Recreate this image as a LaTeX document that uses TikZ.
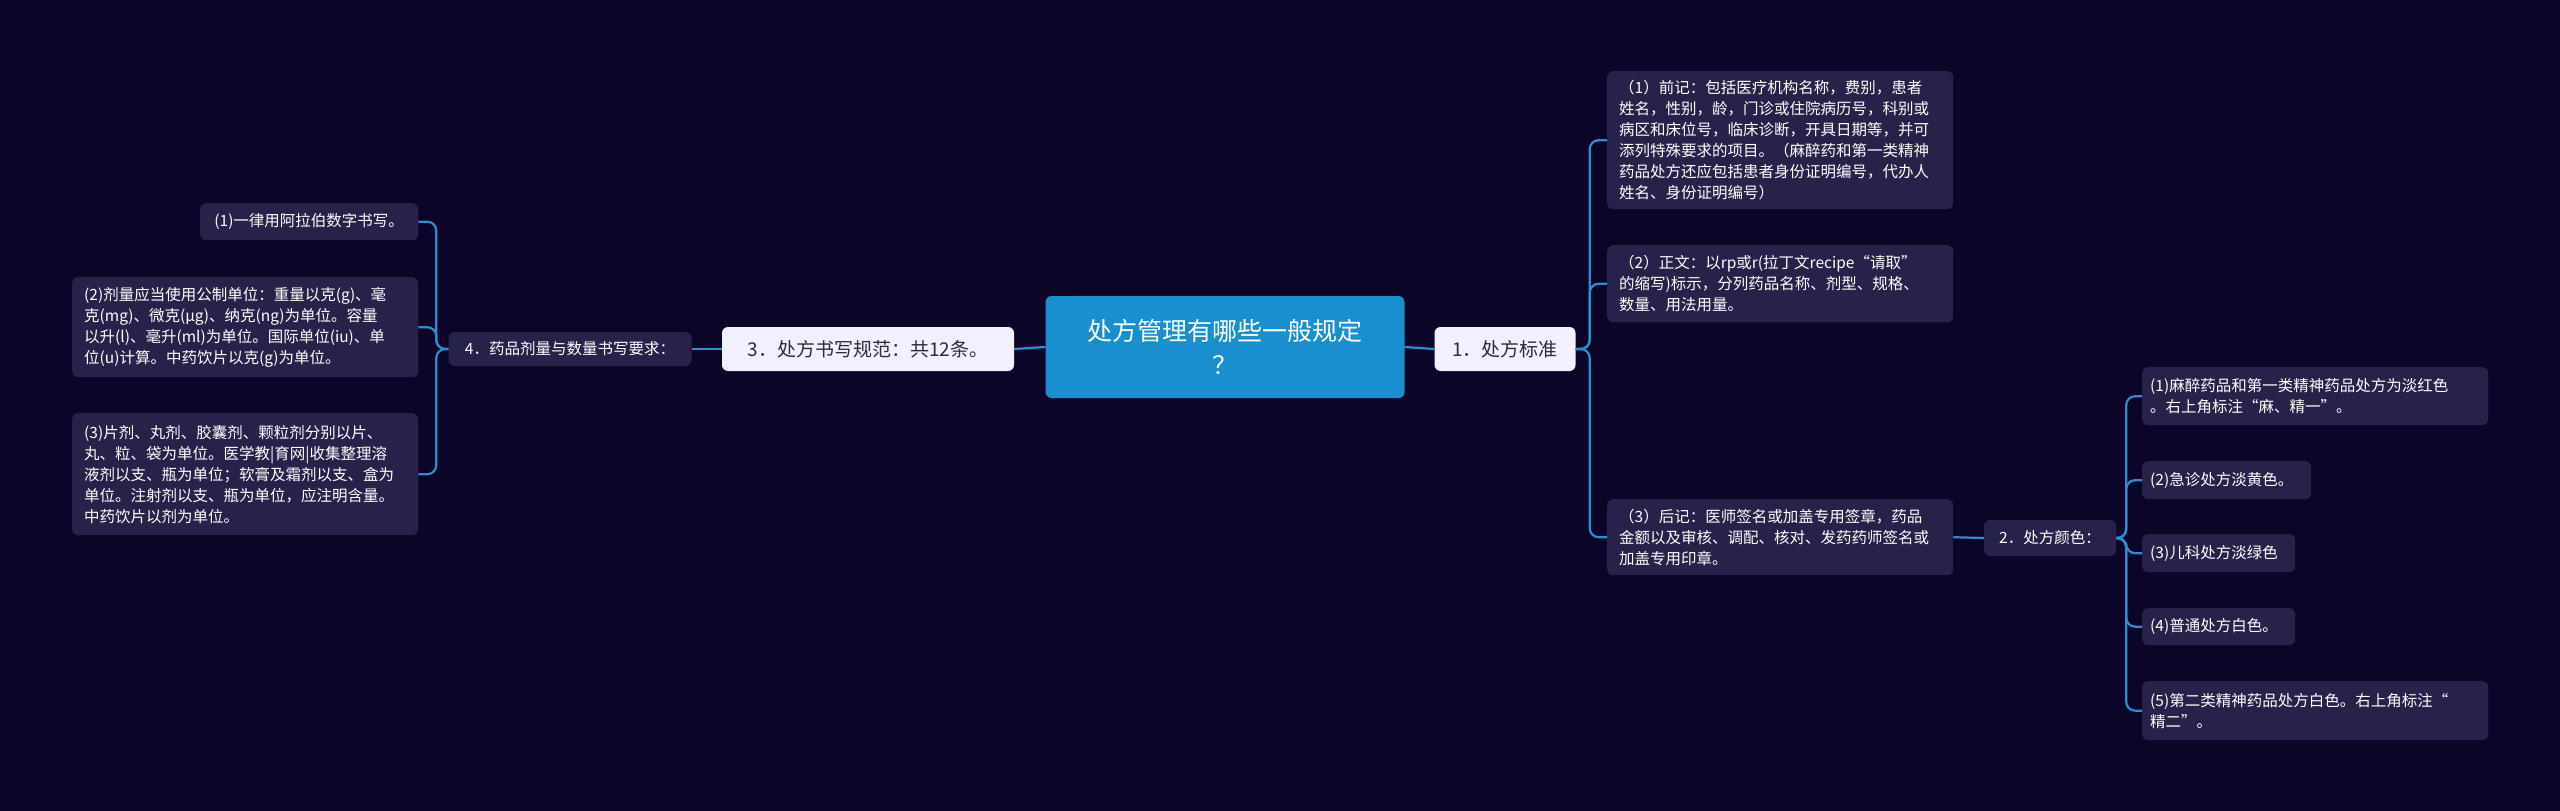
\documentclass[tikz,border=0pt]{standalone}
\usepackage{fontspec}
\setmainfont{Noto Sans CJK SC}
\begin{document}
\begin{tikzpicture}[x=1pt,y=-1pt,
  leaf/.style={fill=leafc,rounded corners=6pt,anchor=north west,text=white,font=\fontsize{15.5}{21}\selectfont,align=left,inner sep=0pt},
  sub/.style={fill=white!94!blue,rounded corners=6pt,text=darkt,font=\fontsize{19}{24}\selectfont,inner sep=0pt},
  conn/.style={draw=linec,line width=2.2pt,rounded corners=9pt}]
\definecolor{bg}{HTML}{0B0627}
\definecolor{leafc}{HTML}{272249}
\definecolor{linec}{HTML}{2A8FD0}
\definecolor{rootc}{HTML}{1A8FD0}
\definecolor{darkt}{HTML}{2A2A40}
\fill[bg] (0,0) rectangle (2560,811);
\useasboundingbox (0,0) rectangle (2560,811);
% root
\node[fill=rootc,rounded corners=6pt,minimum width=359pt,minimum height=102pt,text=white,align=center,font=\fontsize{25}{34}\selectfont,inner sep=0pt] (root) at (1225,347) {处方管理有哪些一般规定\\？};
\node[sub,minimum width=141pt,minimum height=44pt] (n1) at (1505,349) {1．处方标准};
\node[sub,minimum width=292pt,minimum height=44pt] (n3) at (868,349) {3．处方书写规范：共12条。};
\node[fill=leafc,rounded corners=6pt,text=white,font=\fontsize{15.5}{21}\selectfont,inner sep=0pt,minimum width=243pt,minimum height=34pt] (n4) at (570,349) {4．药品剂量与数量书写要求：};
\node[fill=leafc,rounded corners=6pt,text=white,font=\fontsize{15.5}{21}\selectfont,inner sep=0pt,minimum width=132pt,minimum height=36pt] (n2) at (2050,538) {2．处方颜色：};
% left leaves
\node[leaf,minimum width=218pt,minimum height=37pt,align=center] (l1) at (200,203) {(1)一律用阿拉伯数字书写。};
\node[leaf,text width=322pt,minimum height=100pt,inner xsep=12pt] (l2) at (72,277) {(2)剂量应当使用公制单位：重量以克(g)、毫\\克(mg)、微克(μg)、纳克(ng)为单位。容量\\以升(l)、毫升(ml)为单位。国际单位(iu)、单\\位(u)计算。中药饮片以克(g)为单位。};
\node[leaf,text width=322pt,minimum height=122pt,inner xsep=12pt] (l3) at (72,413) {(3)片剂、丸剂、胶囊剂、颗粒剂分别以片、\\丸、粒、袋为单位。医学教|育网|收集整理溶\\液剂以支、瓶为单位；软膏及霜剂以支、盒为\\单位。注射剂以支、瓶为单位，应注明含量。\\中药饮片以剂为单位。};
% right leaves
\node[leaf,text width=322pt,minimum height=138pt,inner xsep=12pt] (r1) at (1607,71) {（1）前记：包括医疗机构名称，费别，患者\\姓名，性别，龄，门诊或住院病历号，科别或\\病区和床位号，临床诊断，开具日期等，并可\\添列特殊要求的项目。（麻醉药和第一类精神\\药品处方还应包括患者身份证明编号，代办人\\姓名、身份证明编号）};
\node[leaf,text width=322pt,minimum height=77pt,inner xsep=12pt] (r2) at (1607,245) {（2）正文：以rp或r(拉丁文recipe“请取”\\的缩写)标示，分列药品名称、剂型、规格、\\数量、用法用量。};
\node[leaf,text width=322pt,minimum height=76pt,inner xsep=12pt] (r3) at (1607,499) {（3）后记：医师签名或加盖专用签章，药品\\金额以及审核、调配、核对、发药药师签名或\\加盖专用印章。};
% colour leaves
\node[leaf,text width=330pt,minimum height=58pt,inner xsep=8pt] (c1) at (2142,367) {(1)麻醉药品和第一类精神药品处方为淡红色\\。右上角标注“麻、精一”。};
\node[leaf,text width=153pt,minimum height=38pt,inner xsep=8pt] (c2) at (2142,461) {(2)急诊处方淡黄色。};
\node[leaf,text width=137pt,minimum height=38pt,inner xsep=8pt] (c3) at (2142,534) {(3)儿科处方淡绿色};
\node[leaf,text width=137pt,minimum height=37pt,inner xsep=8pt] (c4) at (2142,608) {(4)普通处方白色。};
\node[leaf,text width=330pt,minimum height=59pt,inner xsep=8pt] (c5) at (2142,681) {(5)第二类精神药品处方白色。右上角标注“\\精二”。};
% connectors
\draw[conn] (root.east) -- (n1.west);
\draw[conn] (root.west) -- (n3.east);
\draw[conn] (n3.west) -- (n4.east);
\foreach \c in {l1,l2,l3} \draw[conn] (n4.west) -- ++(-12,0) |- (\c.east);
\foreach \c in {r1,r2,r3} \draw[conn] (n1.east) -- ++(14,0) |- (\c.west);
\draw[conn] (r3.east) -- (n2.west);
\foreach \c in {c1,c2,c3,c4,c5} \draw[conn] (n2.east) -- ++(10,0) |- (\c.west);
\end{tikzpicture}
\end{document}
